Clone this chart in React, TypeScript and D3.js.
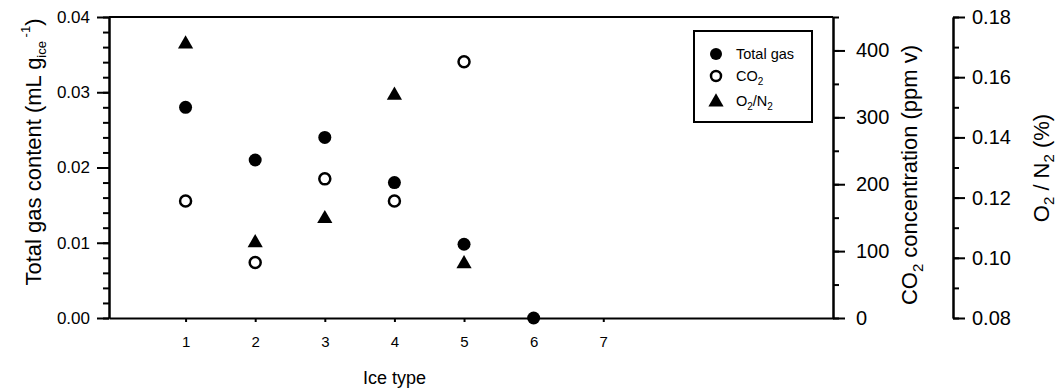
import React, { useEffect, useRef } from "react";
import * as d3 from "d3";

const totalGasX = [1, 2, 3, 4, 5, 6];
const totalGas = [0.028, 0.021, 0.024, 0.018, 0.0098, 0.0];
const co2X = [1, 2, 3, 4, 5];
const co2 = [175, 83, 208, 175, 383];
const o2n2X = [1, 2, 3, 4, 5];
const o2n2 = [0.171, 0.105, 0.113, 0.154, 0.098];
const xTicks = [1, 2, 3, 4, 5, 6, 7];
const leftTicks = [0, 0.01, 0.02, 0.03, 0.04];
const co2Ticks = [0, 100, 200, 300, 400];
const o2Ticks = [0.08, 0.1, 0.12, 0.14, 0.16, 0.18];

const FONT = "'Liberation Sans', Arial, Helvetica, sans-serif";

export default function App() {
  const ref = useRef<SVGSVGElement>(null);

  useEffect(() => {
    const svg = d3.select(ref.current);
    svg.selectAll("*").remove();

    const L = 109, R = 833, T = 17, B = 318;
    const x = d3.scaleLinear().domain([-0.1, 10.3]).range([L, R]);
    const yL = d3.scaleLinear().domain([0, 0.04]).range([B, T]);
    const yC = d3.scaleLinear().domain([0, 450]).range([B, T]);
    const yO = d3.scaleLinear().domain([0.08, 0.18]).range([B, T]);
    const O2AX = 953;

    const g = svg.append("g").attr("font-family", FONT);

    const style = (sel: any, fs: number) => {
      sel.selectAll("path.domain").attr("stroke", "#000").attr("stroke-width", 2);
      sel.selectAll(".tick line").attr("stroke", "#000").attr("stroke-width", 2);
      sel.selectAll(".tick text").attr("font-size", fs).attr("font-family", FONT).attr("fill", "#000");
    };

    // top border
    g.append("line").attr("x1", L).attr("x2", R).attr("y1", T).attr("y2", T)
      .attr("stroke", "#000").attr("stroke-width", 2);

    // left axis
    const lm = g.append("g").attr("transform", `translate(${L},0)`)
      .call(d3.axisLeft(yL).tickValues(d3.range(0, 0.0401, 0.002)).tickSize(6).tickSizeOuter(0).tickFormat(() => ""));
    style(lm, 17);
    const la = g.append("g").attr("transform", `translate(${L},0)`)
      .call(d3.axisLeft(yL).tickValues(leftTicks).tickSize(12).tickSizeOuter(0).tickPadding(7).tickFormat(d3.format(".2f")));
    style(la, 17);

    // CO2 axis (right side of box)
    const cm = g.append("g").attr("transform", `translate(${R},0)`)
      .call(d3.axisRight(yC).tickValues(d3.range(0, 451, 50)).tickSize(6).tickSizeOuter(0).tickFormat(() => ""));
    style(cm, 20);
    const ca = g.append("g").attr("transform", `translate(${R},0)`)
      .call(d3.axisRight(yC).tickValues(co2Ticks).tickSize(12).tickSizeOuter(0).tickPadding(11).tickFormat(d3.format("d")));
    style(ca, 20);

    // O2/N2 axis
    const om = g.append("g").attr("transform", `translate(${O2AX},0)`)
      .call(d3.axisRight(yO).tickValues(d3.range(0.08, 0.1801, 0.01)).tickSize(6).tickSizeOuter(0).tickFormat(() => ""));
    style(om, 20);
    const oa = g.append("g").attr("transform", `translate(${O2AX},0)`)
      .call(d3.axisRight(yO).tickValues(o2Ticks).tickSize(12).tickSizeOuter(0).tickPadding(7).tickFormat(d3.format(".2f")));
    style(oa, 20);

    // x axis
    const xa = g.append("g").attr("transform", `translate(0,${B})`)
      .call(d3.axisBottom(x).tickValues(xTicks).tickSize(4).tickSizeOuter(0).tickPadding(14).tickFormat(d3.format("d")));
    style(xa, 15);

    // axis titles
    g.append("text").attr("x", x(4)).attr("y", 384).attr("text-anchor", "middle")
      .attr("font-size", 18).text("Ice type");

    const lt = g.append("text").attr("transform", `translate(41,152) rotate(-90)`)
      .attr("text-anchor", "middle").attr("font-size", 22);
    lt.append("tspan").text("Total gas content (mL g");
    lt.append("tspan").attr("font-size", 13).attr("dy", 5).text("ice");
    lt.append("tspan").attr("font-size", 13).attr("dy", -16).text(" -1");
    lt.append("tspan").attr("dy", 11).text(")");

    const ct = g.append("text").attr("transform", `translate(917,175) rotate(-90)`)
      .attr("text-anchor", "middle").attr("font-size", 22);
    ct.append("tspan").text("CO");
    ct.append("tspan").attr("font-size", 15).attr("dy", 6).text("2");
    ct.append("tspan").attr("dy", -6).text(" concentration (ppm v)");

    const ot = g.append("text").attr("transform", `translate(1049,168) rotate(-90)`)
      .attr("text-anchor", "middle").attr("font-size", 22);
    ot.append("tspan").text("O");
    ot.append("tspan").attr("font-size", 15).attr("dy", 5).text("2");
    ot.append("tspan").attr("dy", -5).text(" / N");
    ot.append("tspan").attr("font-size", 15).attr("dy", 5).text("2");
    ot.append("tspan").attr("dy", -5).text(" (%)");

    // data
    const tri = d3.symbol().type(d3.symbolTriangle).size(100);
    g.append("g").selectAll("path").data(o2n2X.map((d, i) => [d, o2n2[i]]))
      .join("path").attr("d", tri as any)
      .attr("transform", (d: any) => `translate(${x(d[0])},${yO(d[1])})`).attr("fill", "#000");
    g.append("g").selectAll("circle").data(co2X.map((d, i) => [d, co2[i]]))
      .join("circle").attr("cx", (d: any) => x(d[0])).attr("cy", (d: any) => yC(d[1])).attr("r", 5.5)
      .attr("fill", "#fff").attr("stroke", "#000").attr("stroke-width", 2.5);
    g.append("g").selectAll("circle").data(totalGasX.map((d, i) => [d, totalGas[i]]))
      .join("circle").attr("cx", (d: any) => x(d[0])).attr("cy", (d: any) => yL(d[1])).attr("r", 6.5)
      .attr("fill", "#000");

    // legend
    const lg = g.append("g");
    lg.append("rect").attr("x", 694).attr("y", 31).attr("width", 118).attr("height", 91)
      .attr("fill", "#fff").attr("stroke", "#000").attr("stroke-width", 2);
    lg.append("circle").attr("cx", 716).attr("cy", 54).attr("r", 6).attr("fill", "#000");
    lg.append("circle").attr("cx", 716).attr("cy", 76).attr("r", 5).attr("fill", "#fff")
      .attr("stroke", "#000").attr("stroke-width", 2.5);
    lg.append("path").attr("d", tri as any).attr("transform", "translate(716,102)").attr("fill", "#000");
    lg.append("text").attr("x", 736).attr("y", 59).attr("font-size", 14.5).text("Total gas");
    const l2 = lg.append("text").attr("x", 736).attr("y", 81).attr("font-size", 14.5);
    l2.append("tspan").text("CO");
    l2.append("tspan").attr("font-size", 10).attr("dy", 4).text("2");
    const l3 = lg.append("text").attr("x", 736).attr("y", 106).attr("font-size", 14.5);
    l3.append("tspan").text("O");
    l3.append("tspan").attr("font-size", 10).attr("dy", 4).text("2");
    l3.append("tspan").attr("dy", -4).text("/N");
    l3.append("tspan").attr("font-size", 10).attr("dy", 4).text("2");
  }, []);

  return (
    <svg ref={ref} width={1060} height={390}
      style={{ position: "absolute", left: 0, top: 0, background: "#fff" }} />
  );
}
